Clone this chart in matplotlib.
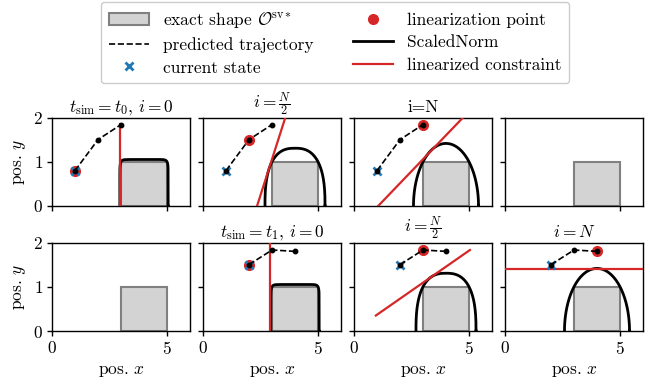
import numpy as np
import matplotlib
matplotlib.use("Agg")
import matplotlib.pyplot as plt
from matplotlib.lines import Line2D
from matplotlib.patches import Patch, Rectangle

plt.rcParams["font.family"] = ["cmr10", "DejaVu Serif"]
plt.rcParams["mathtext.fontset"] = "cm"
plt.rcParams["axes.formatter.use_mathtext"] = True
plt.rcParams["font.size"] = 12.5

# obstacle (exact shape) as a box
box_x = [3.0, 5.0]
box_y = [0.0, 1.0]
norm_center = [4.0, 0.0]

# predicted trajectories at t0 and t1
traj_x = [[1.0, 2.0, 3.0], [2.0, 3.0, 4.0]]
traj_y = [[0.8, 1.5, 1.84], [1.5, 1.83, 1.8]]

# one entry per panel (row-major, 2x4)
titles = [r"$t_\mathrm{sim}=t_0$, $i=0$", r"$i=\frac{N}{2}$", "i=N", "",
          "", r"$t_\mathrm{sim}=t_1$, $i=0$", r"$i=\frac{N}{2}$", r"$i=N$"]
traj_idx = [0, 0, 0, None, None, 1, 1, 1]
lin_idx = [0, 1, 2, None, None, 0, 1, 2]
norm_p = [14, 2.6, 2, None, None, 14, 2.6, 2]
line_x = [[2.95, 2.95], [2.35, 3.58], [1.05, 5.0], None,
          None, [2.93, 2.93], [0.95, 5.04], [0.0, 6.0]]
line_y = [[0.0, 1.85], [0.0, 2.0], [0.0, 2.14], None,
          None, [0.0, 2.2], [0.35, 1.83], [1.41, 1.41]]

RED = "#d62728"
BLUE = "#1f77b4"


def norm_ball(p, n=400):
    # |dx|^p + |dy|^p = 2, so the ball passes through the box corners
    r = 2 ** (1 / p)
    t = np.linspace(0, 2 * np.pi, n)
    c, s = np.cos(t), np.sin(t)
    x = norm_center[0] + r * np.sign(c) * np.abs(c) ** (2 / p)
    y = norm_center[1] + r * np.sign(s) * np.abs(s) ** (2 / p)
    return x, y


fig = plt.figure(figsize=(6.5, 3.9), dpi=100)
W, H = 650, 390
lefts = [52, 203, 354, 505]
tops = [117.5, 242.5]
aw, ah = 138, 88.5

axes = []
for k in range(8):
    row, col = divmod(k, 4)
    ax = fig.add_axes([lefts[col] / W, 1 - (tops[row] + ah) / H, aw / W, ah / H])
    axes.append(ax)

    ax.add_patch(Rectangle((box_x[0], box_y[0]), box_x[1] - box_x[0], box_y[1] - box_y[0],
                           facecolor="lightgray", edgecolor="gray", linewidth=1.5, zorder=1))

    if norm_p[k] is not None:
        bx, by = norm_ball(norm_p[k])
        ax.plot(bx, by, color="black", linewidth=2, zorder=2)
    if line_x[k] is not None:
        ax.plot(line_x[k], line_y[k], color=RED, linewidth=1.6, zorder=3)
    if traj_idx[k] is not None:
        tx, ty = traj_x[traj_idx[k]], traj_y[traj_idx[k]]
        j = lin_idx[k]
        ax.plot(tx[j], ty[j], "o", color=RED, markersize=7, zorder=4)
        ax.plot(tx[0], ty[0], "x", color=BLUE, markersize=6, markeredgewidth=2, zorder=5)
        ax.plot(tx, ty, "--", color="black", linewidth=1.2, marker="o", markersize=3.2, zorder=6)

    ax.set_xlim(0, 6)
    ax.set_ylim(0, 2)
    ax.set_xticks([0, 5])
    ax.set_yticks([0, 1, 2])
    ax.tick_params(direction="out", length=3.5, width=1, labelsize=12.5, pad=3)
    for sp in ax.spines.values():
        sp.set_linewidth(1)
    if row == 0:
        ax.set_xticklabels([])
    else:
        ax.set_xlabel(r"pos. $x$", fontsize=12.5, labelpad=5)
    if col == 0:
        ax.set_ylabel(r"pos. $y$", fontsize=12.5, labelpad=4)
    else:
        ax.set_yticklabels([])
    if titles[k]:
        ax.set_title(titles[k], fontsize=12.5, pad=4)

handles = [
    Patch(facecolor="lightgray", edgecolor="gray", linewidth=1.5),
    Line2D([], [], color="black", linestyle="--", linewidth=1.2),
    Line2D([], [], color=BLUE, marker="x", linestyle="none", markersize=6, markeredgewidth=2),
    Line2D([], [], color=RED, marker="o", linestyle="none", markersize=7),
    Line2D([], [], color="black", linewidth=2),
    Line2D([], [], color=RED, linewidth=1.6),
]
labels = [r"exact shape $\mathcal{O}^{\mathrm{sv}*}$", "predicted trajectory", "current state",
          "linearization point", "ScaledNorm", "linearized constraint"]
fig.legend(handles, labels, ncol=2, loc="upper center", bbox_to_anchor=(335 / W, 1 - 2 / H),
           borderaxespad=0, fontsize=12.5, frameon=True, edgecolor="#cccccc", framealpha=1,
           handlelength=2.3, columnspacing=2.3, borderpad=0.45, labelspacing=0.42)

fig.savefig("out.png", dpi=100)
